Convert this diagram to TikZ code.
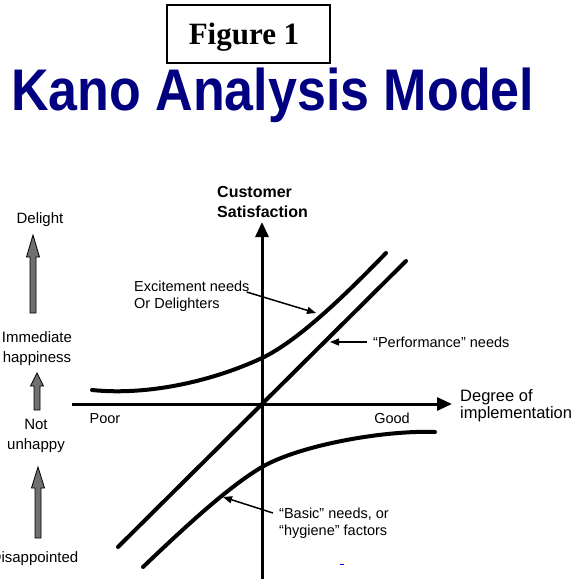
\documentclass[tikz,border=0pt]{standalone}
\usepackage{fontspec}
\setmainfont{Liberation Sans}
\newfontfamily\figfont{Liberation Serif}
\usetikzlibrary{arrows.meta, calc}
\definecolor{navy}{RGB}{0, 0, 128}
\definecolor{stem}{RGB}{112, 112, 112}
\newcommand{\lbl}{\fontsize{14.5}{17}\selectfont}
\newcommand{\blockarrow}[3]{%
  \filldraw[fill=stem, draw=black, line width=0.8pt]
    let \p1 = (#1), \p2 = (#2) in
    (\x1-3pt, \y1) -- (\x1-3pt, \y2-#3) -- (\x1-6.5pt, \y2-#3) -- (\x1, \y2)
    -- (\x1+6.5pt, \y2-#3) -- (\x1+3pt, \y2-#3) -- (\x1+3pt, \y1) -- cycle;
}

\begin{document}
\begin{tikzpicture}[x=1pt, y=-1pt,
  axis/.style={line width=3pt, -{Triangle[length=15pt, width=13pt]}},
  curve/.style={line width=4pt, line cap=round},
  note/.style={line width=1.5pt, -{Triangle[length=9pt, width=7pt]}},
  txt/.style={inner sep=0pt, align=left, font=\lbl},
  side/.style={inner sep=0pt, align=center, font=\fontsize{15}{20}\selectfont}]

  \useasboundingbox (0, 0) rectangle (585, 578);

  % heading
  \node[draw, line width=1.2pt, minimum width=163pt, minimum height=58pt,
    inner sep=0pt] (figbox) at (248.5, 34) {};
  \node[anchor=base, inner sep=0pt,
    font=\figfont\bfseries\fontsize{31}{31}\selectfont] (figtext) at (244, 45) {Figure 1};
  \node[anchor=base west, inner sep=0pt, text=navy] (title) at (11, 110)
    {\scalebox{1}[1.13]{\fontsize{52}{52}\selectfont\bfseries Kano Analysis Model}};

  % axes
  \coordinate (ybot) at (262, 580);
  \coordinate (ytop) at (262, 222);
  \coordinate (xleft) at (72, 404);
  \coordinate (xright) at (452, 404);
  \draw[axis] (ybot) -- (ytop);
  \draw[axis] (xleft) -- (xright);

  \node[txt, anchor=north west, font=\fontsize{16}{20}\selectfont\bfseries]
    (ytitle) at (217, 186) {Customer\\Satisfaction};
  \node[txt, anchor=north west, font=\fontsize{16.5}{17.5}\selectfont]
    (xtitle) at (460, 389) {Degree of\\implementation};
  \node[txt] (poor) at (105, 419) {Poor};
  \node[txt] (good) at (392, 418) {Good};

  % curves
  \draw[curve] (92, 390) .. controls (150, 396) and (215, 380) .. (262, 358)
    .. controls (300, 340) and (350, 290) .. (386, 253);
  \coordinate (perflo) at (118, 547);
  \coordinate (perfhi) at (406, 261);
  \draw[curve] (perflo) -- (perfhi);
  \draw[curve] (143, 567) .. controls (185, 527) and (228, 487) .. (262, 467)
    .. controls (300, 445) and (385, 430) .. (435, 432);

  % notes
  \coordinate (excpt) at (316, 313);
  \coordinate (perfpt) at (330, 342);
  \coordinate (basicpt) at (223, 497);
  \node[txt, anchor=north west] (exctext) at (134, 281) {Excitement needs\\Or Delighters};
  \node[txt, anchor=west] (perftext) at (373, 342) {“Performance” needs};
  \node[txt, anchor=north west] (basictext) at (279, 508) {“Basic” needs, or\\“hygiene” factors};
  \draw[note] ([shift={(-3, 11)}]exctext.north east) -- (excpt);
  \draw[note] ([xshift=-6pt]perftext.west) -- (perfpt);
  \draw[note] ([shift={(-6, 5)}]basictext.north west) -- (basicpt);

  % left scale
  \node[side] (delight) at (40, 220) {Delight};
  \node[side] (happy) at (37, 349) {Immediate\\happiness};
  \node[side] (nothappy) at (36, 436) {Not\\unhappy};
  \node[side] (disap) at (34.5, 559) {Disappointed};
  \coordinate (d1) at (33, 313);
  \coordinate (d2) at (33, 235);
  \coordinate (h1) at (37, 410);
  \coordinate (h2) at (37, 373);
  \coordinate (u1) at (38, 538);
  \coordinate (u2) at (38, 467);
  \blockarrow{d1}{d2}{22pt}
  \blockarrow{h1}{h2}{13pt}
  \blockarrow{u1}{u2}{21pt}

  \draw[blue, line width=1pt] (340, 564) -- (344, 564);

\end{tikzpicture}
\end{document}
